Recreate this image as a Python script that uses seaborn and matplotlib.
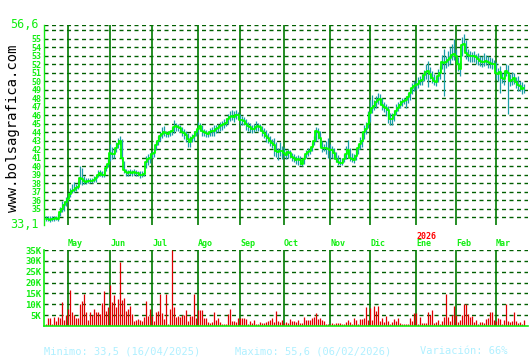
import numpy as np
import matplotlib
matplotlib.use("Agg")
import matplotlib.pyplot as plt
import matplotlib.transforms as mtransforms
import seaborn as sns

# ---------------- data ----------------
close = [
    33.8, 33.8, 33.7, 33.8, 33.8, 33.9, 33.8, 34.6, 35.0, 35.5, 35.8, 36.2, 36.8, 37.1, 37.2, 37.4, 37.6, 38.6, 38.5, 38.3,
    38.2, 38.3, 38.3, 38.3, 38.4, 38.6, 39.0, 39.2, 39.0, 39.0, 39.8, 40.3, 41.6, 41.4, 41.5, 42.2, 42.6, 43.0, 41.0, 39.6,
    39.3, 39.2, 39.3, 39.2, 39.3, 39.2, 39.2, 39.0, 39.0, 39.1, 40.5, 40.8, 41.0, 41.5, 41.6, 42.5, 43.0, 43.6, 43.8, 44.0,
    43.9, 43.8, 44.0, 44.1, 44.6, 44.7, 44.6, 44.5, 44.0, 43.9, 43.7, 43.2, 42.9, 43.3, 43.6, 44.0, 44.4, 44.7, 44.2, 44.0,
    43.9, 43.8, 44.0, 44.1, 44.2, 44.4, 44.5, 44.7, 44.8, 45.0, 45.1, 45.5, 45.8, 45.9, 45.8, 46.0, 46.0, 45.4, 45.4, 45.3,
    45.0, 44.7, 44.6, 44.4, 44.4, 44.6, 44.7, 44.6, 44.1, 43.9, 43.6, 43.3, 43.0, 42.7, 42.5, 41.8, 41.7, 41.8, 41.8, 41.6,
    41.3, 41.7, 41.6, 41.1, 41.0, 40.7, 40.8, 40.7, 40.3, 40.9, 41.4, 41.7, 41.8, 42.3, 43.0, 44.2, 44.0, 43.3, 42.1, 42.1,
    42.1, 42.0, 41.9, 41.9, 41.6, 40.9, 40.5, 40.4, 40.4, 40.9, 41.5, 41.9, 41.0, 40.8, 40.7, 41.2, 42.1, 42.6, 43.0, 44.0,
    44.4, 45.0, 46.3, 46.9, 47.1, 47.5, 47.8, 47.9, 47.2, 47.0, 46.8, 46.6, 45.6, 45.5, 46.0, 46.5, 46.9, 47.2, 47.5, 47.7,
    47.8, 48.1, 48.6, 49.2, 49.4, 49.5, 49.7, 50.0, 50.1, 50.7, 51.1, 51.2, 50.9, 50.4, 50.0, 49.9, 50.6, 51.0, 52.3, 52.1,
    52.2, 52.5, 52.7, 53.1, 53.2, 52.9, 52.0, 51.4, 54.2, 54.4, 53.3, 53.1, 53.0, 53.0, 52.9, 52.8, 52.6, 52.4, 52.3, 52.3,
    52.4, 52.2, 52.1, 52.0, 52.0, 51.0, 50.8, 51.1, 50.4, 50.3, 51.2, 51.0, 50.0, 50.1, 50.4, 49.9, 49.6, 49.4, 49.1, 49.2,
]
high = [
    34.1, 34.2, 34.1, 34.2, 34.2, 34.2, 34.4, 35.2, 35.9, 35.9, 36.4, 36.9, 37.4, 37.9, 38.1, 37.9, 38.3, 40.0, 39.8, 38.8,
    38.6, 38.6, 38.6, 38.6, 38.8, 39.0, 39.6, 39.6, 39.4, 39.5, 40.3, 40.8, 42.6, 42.3, 42.0, 42.8, 43.3, 43.6, 43.2, 40.6,
    39.7, 39.6, 39.7, 39.6, 39.7, 39.6, 39.5, 39.5, 39.4, 39.4, 41.2, 41.4, 41.6, 41.8, 42.0, 43.0, 43.5, 44.0, 44.6, 44.7,
    44.2, 44.1, 44.3, 44.6, 45.4, 45.1, 45.0, 44.9, 44.6, 44.4, 44.2, 43.9, 43.6, 43.8, 44.1, 44.4, 45.2, 45.1, 44.8, 44.4,
    44.3, 44.2, 44.5, 44.6, 44.8, 44.9, 45.0, 45.2, 45.3, 45.6, 45.7, 46.1, 46.5, 46.6, 46.5, 46.6, 46.4, 46.2, 45.9, 45.8,
    45.5, 45.2, 45.1, 44.9, 45.0, 45.3, 45.1, 45.0, 44.7, 44.5, 44.3, 43.9, 43.6, 43.2, 43.3, 42.9, 42.2, 42.8, 42.4, 42.3,
    41.9, 42.0, 41.9, 41.6, 41.5, 41.2, 41.3, 41.2, 40.9, 41.3, 41.9, 42.1, 42.3, 42.7, 43.5, 44.6, 44.5, 44.2, 43.0, 42.6,
    43.0, 43.3, 42.6, 42.4, 42.1, 41.7, 41.3, 41.0, 41.0, 41.4, 42.4, 43.1, 42.2, 41.6, 41.4, 42.1, 42.6, 43.4, 44.2, 44.9,
    45.2, 46.5, 47.8, 48.4, 47.8, 48.3, 48.6, 48.5, 48.0, 47.6, 47.3, 47.1, 46.3, 46.3, 46.6, 47.3, 47.5, 47.8, 48.0, 48.0,
    48.2, 48.6, 49.2, 49.8, 50.0, 50.1, 50.5, 50.6, 50.8, 51.3, 52.0, 52.4, 51.7, 51.2, 50.8, 50.6, 51.4, 51.8, 53.1, 53.8,
    53.0, 53.6, 54.0, 54.4, 55.0, 53.8, 52.8, 52.4, 55.2, 55.6, 54.8, 53.8, 53.6, 53.4, 53.5, 53.2, 53.3, 53.0, 52.9, 53.3,
    53.1, 53.0, 52.8, 52.7, 52.5, 52.3, 51.6, 51.8, 51.0, 51.2, 52.0, 51.9, 50.9, 51.1, 51.0, 50.5, 50.6, 50.0, 49.9, 49.7,
]
low = [
    33.6, 33.6, 33.5, 33.6, 33.6, 33.7, 33.6, 34.2, 34.6, 34.8, 35.3, 35.9, 36.4, 36.9, 37.0, 37.1, 37.3, 37.9, 37.8, 37.9,
    37.9, 38.0, 38.0, 38.0, 38.1, 38.2, 38.7, 38.8, 38.7, 38.7, 39.4, 39.9, 40.6, 40.9, 41.0, 41.7, 42.1, 42.5, 40.6, 39.2,
    38.9, 38.9, 39.0, 38.9, 39.0, 38.9, 38.9, 38.6, 38.7, 38.8, 39.8, 40.2, 40.4, 41.0, 41.1, 41.9, 42.5, 43.0, 43.3, 43.5,
    43.4, 43.4, 43.6, 43.7, 43.9, 44.2, 44.1, 44.0, 43.5, 43.2, 42.9, 42.3, 42.3, 42.8, 43.0, 43.5, 43.8, 44.1, 43.6, 43.5,
    43.4, 43.4, 43.5, 43.6, 43.6, 43.9, 44.0, 44.2, 44.3, 44.5, 44.7, 45.0, 45.3, 45.4, 45.2, 45.5, 45.5, 44.9, 44.8, 44.8,
    44.3, 44.2, 44.0, 43.9, 44.0, 44.1, 44.2, 44.1, 43.6, 43.3, 42.9, 42.7, 42.4, 42.1, 41.2, 41.1, 40.7, 41.2, 40.8, 41.1,
    40.9, 41.0, 41.0, 40.6, 40.5, 40.3, 40.2, 40.2, 40.0, 40.3, 41.0, 41.2, 41.4, 41.8, 42.5, 43.0, 43.2, 42.3, 41.7, 41.8,
    41.5, 41.0, 40.8, 41.0, 40.8, 40.5, 40.2, 40.1, 40.2, 40.5, 40.9, 41.2, 40.6, 40.5, 40.4, 40.7, 41.5, 42.0, 42.3, 43.2,
    43.8, 44.5, 45.2, 46.3, 46.6, 46.9, 47.3, 47.2, 46.6, 46.4, 45.9, 45.1, 44.8, 44.9, 45.3, 46.0, 46.5, 46.8, 47.1, 47.3,
    46.8, 47.4, 47.8, 48.5, 48.9, 49.0, 49.2, 49.5, 49.6, 50.0, 50.3, 49.3, 50.2, 49.8, 49.5, 49.4, 49.9, 50.3, 51.4, 48.2,
    51.5, 51.8, 52.0, 52.5, 52.5, 52.2, 51.2, 50.6, 53.0, 53.5, 52.6, 52.4, 52.2, 52.3, 52.2, 52.0, 51.9, 51.8, 51.7, 51.8,
    51.9, 51.6, 51.6, 51.4, 51.5, 50.3, 50.0, 48.6, 49.8, 49.6, 50.6, 46.2, 49.4, 49.5, 49.7, 49.2, 48.9, 48.8, 48.5, 48.6,
]
volume_k = [
    1.1, 3.9, 3.9, 0.8, 4.2, 2.4, 4.2, 3.5, 11.0, 2.8, 5.2, 7.9, 16.5, 6.6, 5.2, 3.9, 3.9, 10.2, 11.3, 14.6,
    6.3, 2.8, 6.6, 5.2, 8.0, 6.3, 6.3, 5.5, 10.8, 16.0, 7.1, 8.6, 18.9, 11.0, 14.2, 8.6, 12.6, 29.4, 11.8, 13.0,
    7.1, 7.9, 9.4, 5.5, 2.4, 2.8, 3.1, 2.8, 2.4, 4.2, 11.3, 4.7, 7.9, 4.7, 2.4, 6.6, 7.1, 14.9, 5.8, 3.1,
    14.9, 0.8, 7.9, 35.0, 8.6, 4.2, 4.7, 4.2, 5.2, 5.2, 7.5, 2.4, 4.7, 4.7, 14.9, 3.5, 7.4, 7.4, 7.5, 3.9,
    3.5, 1.9, 1.4, 1.7, 6.6, 2.8, 3.5, 1.9, 1.1, 1.1, 1.1, 5.5, 8.0, 2.4, 2.4, 2.0, 3.9, 3.9, 3.5, 3.5,
    3.1, 1.1, 2.4, 1.6, 2.8, 0.8, 1.1, 1.9, 1.6, 1.6, 1.9, 2.4, 2.8, 3.5, 1.7, 6.8, 2.4, 1.7, 2.8, 1.6,
    1.9, 1.4, 3.1, 2.4, 2.4, 1.7, 2.8, 1.4, 1.4, 4.2, 2.8, 2.8, 2.8, 3.5, 4.2, 5.8, 3.1, 3.5, 2.8, 2.4,
    0.8, 0.8, 0.8, 1.4, 1.1, 1.6, 1.6, 1.6, 1.1, 0.8, 1.9, 2.8, 1.9, 0.8, 3.6, 2.8, 0.8, 3.0, 3.0, 3.5,
    8.6, 2.7, 8.2, 2.7, 9.4, 6.8, 9.0, 2.4, 3.5, 1.9, 4.7, 2.4, 1.1, 1.9, 3.1, 2.4, 3.5, 1.6, 1.1, 1.1,
    1.1, 1.1, 3.6, 2.4, 6.0, 6.0, 1.1, 4.2, 1.6, 1.6, 1.6, 6.6, 5.2, 7.5, 1.6, 1.9, 2.7, 0.8, 2.4, 4.2,
    14.9, 4.2, 2.4, 5.2, 9.4, 5.0, 1.9, 2.7, 5.2, 10.2, 10.2, 5.5, 4.2, 4.7, 1.9, 2.7, 0.8, 2.0, 1.9, 1.3,
    3.1, 3.5, 6.3, 6.6, 2.8, 2.4, 3.6, 3.1, 1.1, 2.8, 10.2, 2.4, 1.9, 2.4, 6.3, 2.4, 1.6, 1.9, 1.1, 2.8,
]
month_labels = ["May", "Jun", "Jul", "Ago", "Sep", "Oct", "Nov", "Dic", "Ene", "Feb", "Mar"]
month_starts = [11, 32, 53, 76, 97, 119, 142, 162, 185, 205, 225]
year_label = "2026"
year_month = "Ene"
price_ticks = [35, 36, 37, 38, 39, 40, 41, 42, 43, 44, 45, 46, 47, 48, 49, 50, 51, 52, 53, 54, 55]
price_grid = [34, 35, 36, 37, 38, 39, 40, 41, 42, 43, 44, 45, 46, 47, 48, 49, 50, 51, 52, 53, 54, 55, 56, 56.6]
price_min, price_max = 33.1, 56.6
vol_ticks = [5, 10, 15, 20, 25, 30, 35]
footer_min = "Minimo: 33,5 (16/04/2025)"
footer_max = "Maximo: 55,6 (06/02/2026)"
footer_var = "Variación: 66%"
site = "www.bolsagrafica.com"

# ---------------- style ----------------
sns.set_style("white")
plt.rcParams["font.family"] = ["DejaVu Sans Mono", "DejaVu Sans"]
plt.rcParams["lines.scale_dashes"] = False

BRIGHT = "#11ee11"
DGREEN = "#007a00"
GRID = "#005f00"
TEAL = "#1b9ea8"
RED = "#e00000"
CYAN = "#b0f0ff"

idx = np.arange(len(close))
W, H = 530, 360
fig = plt.figure(figsize=(W / 100, H / 100), dpi=100)
fig.patch.set_facecolor("white")

def fx(px):
    return px / W

def fy(py):
    return 1 - py / H

xlim = (-0.75, 241.25)

ax = fig.add_axes([fx(44), fy(225), fx(528) - fx(44), (225 - 25) / H])
axv = fig.add_axes([fx(44), fy(326), fx(528) - fx(44), (326 - 250) / H])

dash = (0, (2.9, 2.5))
# ---- price panel ----
for g in price_grid:
    ax.axhline(g, color=GRID, lw=1.0, ls=dash, zorder=1)
for m in month_starts:
    ax.axvline(m, color=DGREEN, lw=1.2, zorder=1)
ax.vlines(idx, low, high, color=TEAL, lw=0.9, zorder=2)
sns.lineplot(x=idx, y=close, ax=ax, color="#00ff00", lw=1.3, drawstyle="steps-mid", zorder=3)
ax.set_xlim(*xlim)
ax.set_ylim(price_min, price_max)
ax.set_yticks(price_ticks)
ax.set_yticklabels([str(t) for t in price_ticks])
ax.tick_params(axis="y", length=0, pad=2, labelsize=6, labelcolor=BRIGHT)
for lab in ax.get_yticklabels():
    lab.set_fontweight("bold")
ax.set_xticks([])
ax.set_xlabel("")
ax.set_ylabel("")
for s in ["top", "right", "bottom"]:
    ax.spines[s].set_visible(False)
ax.spines["left"].set_color(BRIGHT)
ax.spines["left"].set_linewidth(1.0)
ax.set_facecolor("white")
ax.text(-0.012, price_max, "56,6", transform=mtransforms.blended_transform_factory(ax.transAxes, ax.transData),
        ha="right", va="center", color=BRIGHT, fontsize=8.5)
ax.text(-0.012, price_min, "33,1", transform=mtransforms.blended_transform_factory(ax.transAxes, ax.transData),
        ha="right", va="center", color=BRIGHT, fontsize=8.5)

# month labels between panels
tr = mtransforms.blended_transform_factory(ax.transData, fig.transFigure)
for lab, m in zip(month_labels, month_starts):
    ax.text(m + 0.3, fy(244), lab, transform=tr, ha="left", va="center",
            color=BRIGHT, fontsize=6, fontweight="bold", clip_on=False)
    if lab == year_month:
        ax.text(m + 0.3, fy(236.5), year_label, transform=tr, ha="left", va="center",
                color="#ff0000", fontsize=6, fontweight="bold", clip_on=False)

# ---- volume panel ----
for g in vol_ticks:
    axv.axhline(g, color=GRID, lw=1.0, ls=dash, zorder=1)
for m in month_starts:
    axv.axvline(m, color=DGREEN, lw=1.2, zorder=1)
axv.vlines(idx, 0, volume_k, color=RED, lw=0.9, zorder=2)
axv.set_xlim(*xlim)
axv.set_ylim(0, 35)
axv.set_yticks(vol_ticks)
axv.set_yticklabels([f"{t}K" for t in vol_ticks])
axv.tick_params(axis="y", length=0, pad=2, labelsize=6.5, labelcolor=BRIGHT)
for lab in axv.get_yticklabels():
    lab.set_fontweight("bold")
axv.set_xticks([])
axv.set_xlabel("")
axv.set_ylabel("")
for s in ["top", "right"]:
    axv.spines[s].set_visible(False)
for s in ["left", "bottom"]:
    axv.spines[s].set_color(BRIGHT)
    axv.spines[s].set_linewidth(1.2)
    axv.spines[s].set_zorder(3)
axv.set_facecolor("white")

# ---- texts ----
fig.text(fx(13), fy(128), site, rotation=90, ha="center", va="center", color="black", fontsize=10)
fig.text(fx(44), fy(351), footer_min, ha="left", va="center", color=CYAN, fontsize=7.5)
fig.text(fx(235), fy(351), footer_max, ha="left", va="center", color=CYAN, fontsize=7.5)
fig.text(fx(420), fy(351), footer_var, ha="left", va="center", color=CYAN, fontsize=7.5)

fig.savefig("out.png", dpi=100, facecolor="white")
